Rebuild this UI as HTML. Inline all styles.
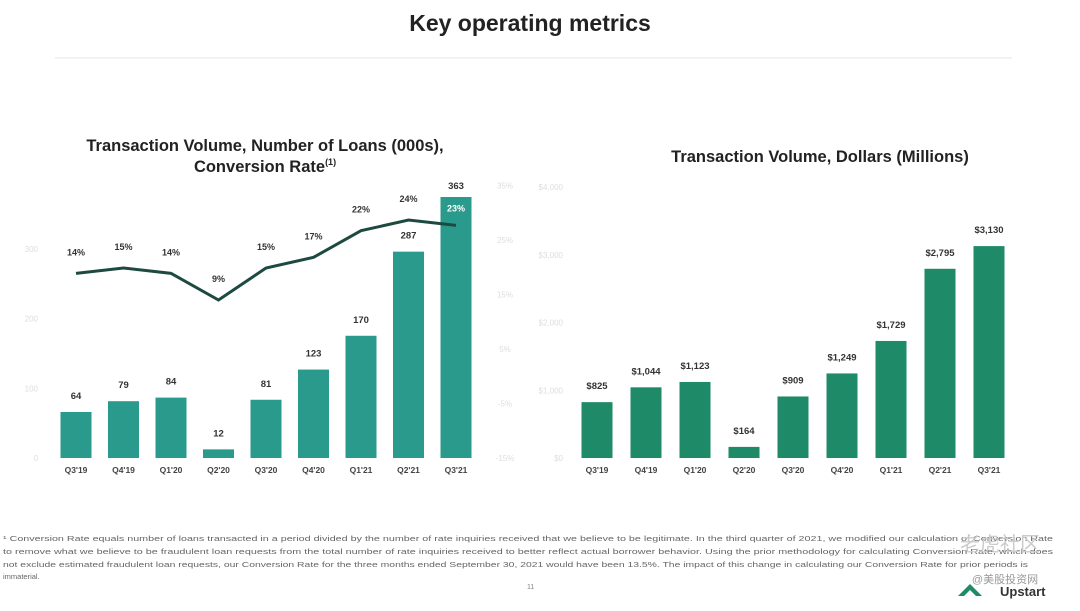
<!DOCTYPE html>
<html><head><meta charset="utf-8"><style>
body{margin:0;background:#fff;width:1080px;height:606px;overflow:hidden;font-family:"Liberation Sans","Noto Sans CJK SC",sans-serif}
svg text{font-family:"Liberation Sans","Noto Sans CJK SC",sans-serif}
</style></head><body>
<svg width="1080" height="606">
<text x="530" y="31" text-anchor="middle" font-size="23" font-weight="bold" fill="#222">Key operating metrics</text>
<line x1="55" y1="58" x2="1012" y2="58" stroke="#eee" stroke-width="1.5"/>
<text x="265" y="151" text-anchor="middle" font-size="16.5" font-weight="bold" fill="#222">Transaction Volume, Number of Loans (000s),</text>
<text x="265" y="172" text-anchor="middle" font-size="16.5" font-weight="bold" fill="#222">Conversion Rate<tspan font-size="9" dy="-7">(1)</tspan></text>
<text x="820" y="162" text-anchor="middle" font-size="16.5" font-weight="bold" fill="#222">Transaction Volume, Dollars (Millions)</text>
<g id="left"></g>
<g id="right"></g>
<g font-size="7.5" fill="#666">
<text x="3" y="541" textLength="1050" lengthAdjust="spacingAndGlyphs">¹ Conversion Rate equals number of loans transacted in a period divided by the number of rate inquiries received that we believe to be legitimate. In the third quarter of 2021, we modified our calculation of Conversion Rate</text>
<text x="3" y="554" textLength="1050" lengthAdjust="spacingAndGlyphs">to remove what we believe to be fraudulent loan requests from the total number of rate inquiries received to better reflect actual borrower behavior. Using the prior methodology for calculating Conversion Rate, which does</text>
<text x="3" y="567" textLength="1025" lengthAdjust="spacingAndGlyphs">not exclude estimated fraudulent loan requests, our Conversion Rate for the three months ended September 30, 2021 would have been 13.5%. The impact of this change in calculating our Conversion Rate for prior periods is</text>
<text x="3" y="579">immaterial.</text>
</g>
<text x="527" y="589" font-size="7" fill="#888">11</text>
<text x="1000" y="551" text-anchor="middle" font-size="20" fill="#ccc">老虎社区</text>
<text x="1005" y="583" text-anchor="middle" font-size="11" fill="#999">@美股投资网</text>
<text x="1000" y="596" font-size="13" font-weight="bold" fill="#333">Upstart</text>
<path d="M958 596 L970 584 L982 596 L976 596 L970 590 L964 596Z" fill="#1e8a68"/>
</svg>
<script>
const cats=["Q3'19","Q4'19","Q1'20","Q2'20","Q3'20","Q4'20","Q1'21","Q2'21","Q3'21"];
const loans=[64,79,84,12,81,123,170,287,363];
const convRate=[14,15,14,9,15,17,22,24,23];
const dollars=[825,1044,1123,164,909,1249,1729,2795,3130];
const dollarLabels=["$825","$1,044","$1,123","$164","$909","$1,249","$1,729","$2,795","$3,130"];
const leftTicks=[0,100,200,300];
const pctTicks=["-15%","-5%","5%","15%","25%","35%"];
const rightTicks=[0,1000,2000,3000,4000];
const NS="http://www.w3.org/2000/svg";
function mk(p,t,a){const e=document.createElementNS(NS,t);for(const k in a)e.setAttribute(k,a[k]);p.appendChild(e);return e;}
const base=458;
const L=document.getElementById('left'),R=document.getElementById('right');
const lx=i=>76+i*47.5, ly=v=>base-v*0.719, ry=v=>300-(v-9)*5.33;
const rx=i=>597+i*49, rvy=v=>base-v*0.0677;
leftTicks.forEach(t=>{const e=mk(L,'text',{x:38,y:ly(t*0.97)+3,'text-anchor':'end','font-size':8,fill:'#ddd'});e.textContent=t;

});
pctTicks.forEach((t,i)=>{const e=mk(L,'text',{x:505,y:base+3-i*54.5,'text-anchor':'middle','font-size':8,fill:'#ddd'});e.textContent=t;

});
rightTicks.forEach(t=>{const e=mk(R,'text',{x:563,y:rvy(t)+3,'text-anchor':'end','font-size':8,fill:'#ddd'});e.textContent='$'+(t?t.toLocaleString('en-US'):0);

});
cats.forEach((c,i)=>{
 const b=mk(L,'rect',{x:lx(i)-15.5,y:ly(loans[i]),width:31,height:base-ly(loans[i]),fill:'#2a9a8c'});
 
 
 const t=mk(L,'text',{x:lx(i),y:ly(loans[i])-(i<8?13:8),'text-anchor':'middle','font-size':9.5,'font-weight':'bold',fill:'#333'});t.textContent=loans[i];
 
 
 const x=mk(L,'text',{x:lx(i),y:473,'text-anchor':'middle','font-size':8.5,'font-weight':'bold',fill:'#444'});x.textContent=c;
 
 
 const r=mk(R,'rect',{x:rx(i)-15.5,y:rvy(dollars[i]),width:31,height:base-rvy(dollars[i]),fill:'#1e8a68'});
 
 
 const rl=mk(R,'text',{x:rx(i),y:rvy(dollars[i])-13,'text-anchor':'middle','font-size':9.5,'font-weight':'bold',fill:'#333'});rl.textContent=dollarLabels[i];
 
 
 const rxl=mk(R,'text',{x:rx(i),y:473,'text-anchor':'middle','font-size':8.5,'font-weight':'bold',fill:'#444'});rxl.textContent=c;
 
 
});
const pl=mk(L,'polyline',{points:convRate.map((v,i)=>lx(i)+','+ry(v)).join(' '),fill:'none',stroke:'#1d4a40','stroke-width':3});


convRate.forEach((v,i)=>{
 const last=i==8;
 const t=mk(L,'text',{x:lx(i),y:last?ry(v)-14:ry(v)-18,'text-anchor':'middle','font-size':9,'font-weight':'bold',fill:last?'#fff':'#333'});t.textContent=v+'%';
 
 
});
</script>
</body></html>
